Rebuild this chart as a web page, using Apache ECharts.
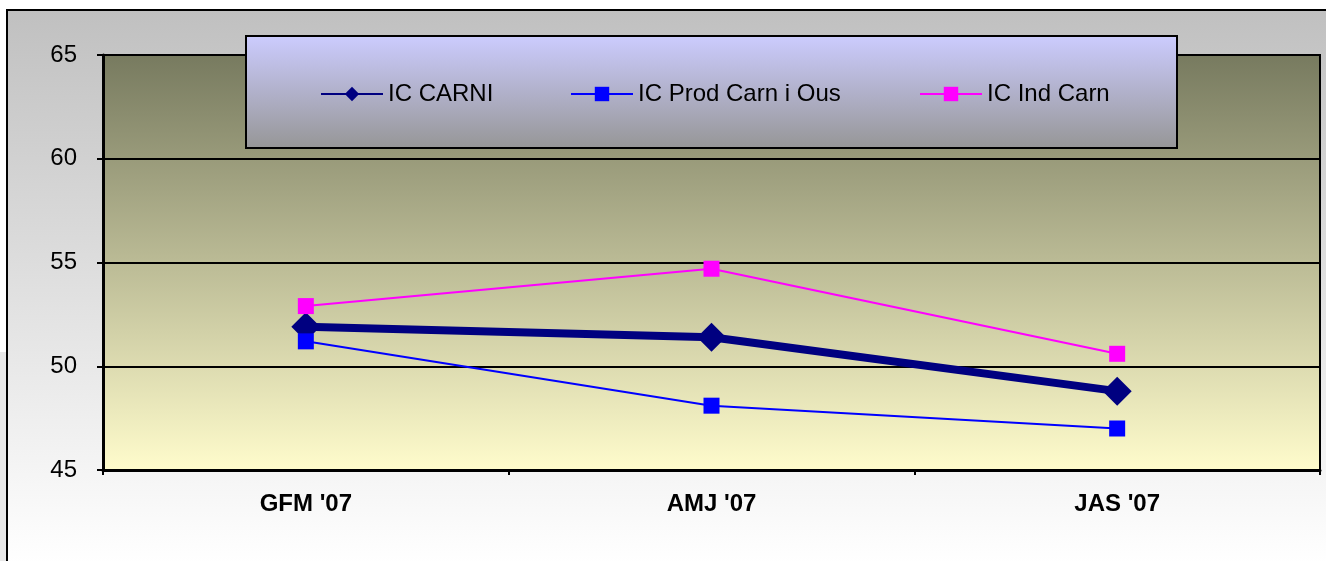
<!DOCTYPE html>
<html>
<head>
<meta charset="utf-8">
<script src="https://cdn.jsdelivr.net/npm/echarts@6/dist/echarts.min.js"></script>
<style>
html,body{margin:0;padding:0;background:#fff;}
#chart{width:1326px;height:561px;}
</style>
</head>
<body>
<div id="chart"></div>
<script>
const categories = ["GFM '07", "AMJ '07", "JAS '07"];
const icCarni = [51.9, 51.4, 48.8];
const icProd = [51.2, 48.1, 47.0];
const icInd = [52.9, 54.7, 50.6];
const seriesNames = ['IC CARNI', 'IC Prod Carn i Ous', 'IC Ind Carn'];

const chart = echarts.init(document.getElementById('chart'), null, {renderer: 'canvas'});
const font = "'Liberation Sans', Arial, sans-serif";
const legendBase = {
  orient: 'horizontal',
  top: 82,
  itemWidth: 62,
  itemHeight: 18,
  itemGap: 0,
  padding: 0,
  textStyle: {fontFamily: font, fontSize: 24, color: '#000', padding: [0, 0, 0, 0]},
  lineStyle: {width: 2}
};
chart.setOption({
  animation: false,
  graphic: [
    {type: 'rect', z: -100, shape: {x: 7, y: 10, width: 1340, height: 552},
     style: {fill: new echarts.graphic.LinearGradient(0, 0, 0, 1, [
       {offset: 0, color: '#c0c0c0'}, {offset: 1, color: '#ffffff'}]), stroke: '#000', lineWidth: 2}},
    {type: 'rect', z: -100, shape: {x: 0, y: 352, width: 6, height: 209}, style: {fill: '#e8e8e8'}},
    {type: 'rect', z: 50, shape: {x: 246, y: 36, width: 931, height: 112},
     style: {fill: new echarts.graphic.LinearGradient(0, 0, 0, 1, [
       {offset: 0, color: '#ccccff'}, {offset: 1, color: '#969696'}]), stroke: '#000', lineWidth: 2}}
  ],
  legend: [
    Object.assign({}, legendBase, {left: 320, data: [seriesNames[0]], z: 60}),
    Object.assign({}, legendBase, {left: 570, data: [seriesNames[1]], z: 60}),
    Object.assign({}, legendBase, {left: 919, data: [seriesNames[2]], z: 60})
  ],
  grid: {
    left: 103, top: 55, right: 6, bottom: 91,
    show: true,
    borderColor: '#000', borderWidth: 2,
    backgroundColor: new echarts.graphic.LinearGradient(0, 0, 0, 1, [
      {offset: 0, color: '#777a5f'}, {offset: 1, color: '#fffccc'}])
  },
  xAxis: {
    type: 'category',
    data: categories,
    boundaryGap: true,
    axisLine: {lineStyle: {color: '#000', width: 3}},
    axisTick: {show: true, length: 5, lineStyle: {color: '#000', width: 2}},
    axisLabel: {fontFamily: font, fontSize: 24, fontWeight: 'bold', color: '#000', margin: 22}
  },
  yAxis: {
    type: 'value',
    min: 45, max: 65, interval: 5,
    axisLine: {show: true, lineStyle: {color: '#000', width: 3}},
    axisTick: {show: true, length: 6, lineStyle: {color: '#000', width: 2}},
    axisLabel: {fontFamily: font, fontSize: 24, color: '#000', margin: 26},
    splitLine: {show: true, lineStyle: {color: '#000', width: 2}}
  },
  series: [
    {name: seriesNames[0], type: 'line', data: icCarni, color: '#000080',
     symbol: 'diamond', symbolSize: 29, lineStyle: {width: 8, color: '#000080'},
     itemStyle: {color: '#000080'}, z: 3},
    {name: seriesNames[1], type: 'line', data: icProd, color: '#0000ff',
     symbol: 'rect', symbolSize: 16, lineStyle: {width: 2, color: '#0000ff'},
     itemStyle: {color: '#0000ff'}, z: 4},
    {name: seriesNames[2], type: 'line', data: icInd, color: '#ff00ff',
     symbol: 'rect', symbolSize: 16, lineStyle: {width: 2, color: '#ff00ff'},
     itemStyle: {color: '#ff00ff'}, z: 5}
  ]
});
</script>
</body>
</html>
